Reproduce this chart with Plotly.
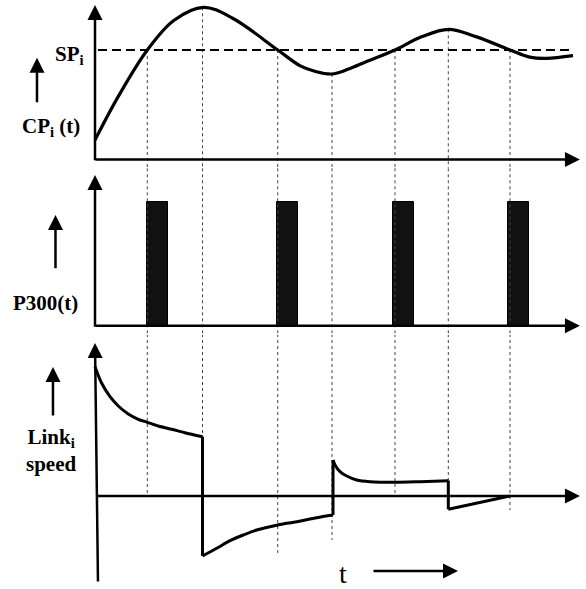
import plotly.graph_objects as go

# ---------------- data (time in arbitrary units t) ----------------
# Top panel: CP_i(t), set point SP_i = 1
cp_t = [0.0, 0.48, 1.083, 1.63, 2.242, 2.85, 3.783, 4.25, 4.55, 4.901, 5.25, 5.60,
        6.211, 6.76, 7.315, 7.90, 8.592, 9.00, 9.35, 9.896]
cp_v = [0.178, 0.574, 1.0, 1.27, 1.390, 1.29, 1.0, 0.855, 0.806, 0.781, 0.826, 0.89,
        1.0, 1.12, 1.189, 1.12, 1.0, 0.935, 0.924, 0.948]
sp_level = 1.0
sp_start = 0.062
sp_end = 9.896

# event instants (vertical dotted guides)
event_t = [1.083, 2.226, 3.783, 4.907, 6.211, 7.315, 8.592]
event_top = [1.0, 1.390, 1.0, 0.781, 1.0, 1.189, 1.0]          # on CP panel
event_bottom = [0.02, -0.60, -0.59, -0.44, 0.03, -0.13, -0.14]   # on speed panel

# Middle panel: P300 pulses
p300_onset = [1.083, 3.768, 6.18, 8.557]
p300_height = [1.0, 1.0, 1.0, 1.0]
p300_width = 0.43

# Bottom panel: link speed (four segments)
speed_t1 = [0.0, 0.139, 0.311, 0.482, 0.689, 0.896, 1.083, 1.311, 1.588, 1.863, 2.226]
speed_v1 = [1.293, 1.127, 0.993, 0.90, 0.82, 0.767, 0.737, 0.70, 0.667, 0.633, 0.593]
speed_t2 = [2.226, 2.520, 2.795, 3.070, 3.348, 3.783, 4.176, 4.590, 4.928]
speed_v2 = [-0.60, -0.523, -0.447, -0.39, -0.34, -0.29, -0.257, -0.217, -0.19]
speed_t3 = [4.928, 4.969, 5.072, 5.211, 5.418, 5.694, 6.211, 6.729, 7.315]
speed_v3 = [0.36, 0.31, 0.243, 0.20, 0.16, 0.143, 0.137, 0.143, 0.153]
speed_t4 = [7.315, 8.592]
speed_v4 = [-0.133, 0.0]

# axis extents
t_end = 10.04
top_ymax = 1.411
mid_ymax = 1.218
bot_ymax = 1.53
bot_ymin = -0.87
bot_axis_foot_t = 0.062

FONT = "Liberation Serif"

fig = go.Figure()

# dotted event guides through all three panels
for te, top, bot in zip(event_t, event_top, event_bottom):
    dot = dict(color="#444", width=1, dash="dot")
    fig.add_trace(go.Scatter(x=[te, te], y=[top, -0.5], mode="lines", line=dot,
                             xaxis="x", yaxis="y", hoverinfo="skip"))
    fig.add_trace(go.Scatter(x=[te, te], y=[2, -0.5], mode="lines", line=dot,
                             xaxis="x", yaxis="y2", hoverinfo="skip"))
    fig.add_trace(go.Scatter(x=[te, te], y=[3, bot], mode="lines", line=dot,
                             xaxis="x", yaxis="y3", hoverinfo="skip"))

# set point dashed line
fig.add_trace(go.Scatter(x=[sp_start, sp_end], y=[sp_level, sp_level], mode="lines",
                         line=dict(color="black", width=1.8, dash="9px,5px"),
                         xaxis="x", yaxis="y", hoverinfo="skip"))

# CP curve
fig.add_trace(go.Scatter(x=cp_t, y=cp_v, mode="lines",
                         line=dict(color="black", width=3.2, shape="spline", smoothing=1.0),
                         xaxis="x", yaxis="y", hoverinfo="skip"))

# P300 bars
fig.add_trace(go.Bar(x=p300_onset, y=p300_height, width=p300_width, offset=0,
                     marker=dict(color="#111111", line=dict(color="black", width=1)),
                     xaxis="x", yaxis="y2", hoverinfo="skip"))

# link speed curve
segs = [(speed_t1, speed_v1), (speed_t2, speed_v2), (speed_t3, speed_v3), (speed_t4, speed_v4)]
for i, (st, sv) in enumerate(segs):
    fig.add_trace(go.Scatter(x=st, y=sv, mode="lines",
                             line=dict(color="black", width=3, shape="spline", smoothing=0.8),
                             xaxis="x", yaxis="y3", hoverinfo="skip"))
    if i + 1 < len(segs):
        nt, nv = segs[i + 1]
        fig.add_trace(go.Scatter(x=[st[-1], nt[0]], y=[sv[-1], nv[0]], mode="lines",
                                 line=dict(color="black", width=3),
                                 xaxis="x", yaxis="y3", hoverinfo="skip"))


def arrow(x, y, ax, ay, yref, w=2.5):
    return dict(x=x, y=y, ax=ax, ay=ay, xref="x", yref=yref, axref="x", ayref=yref,
                showarrow=True, arrowhead=2, arrowsize=1.2, arrowwidth=w,
                arrowcolor="black", text="", standoff=0)


def label(x, y, text, yref, size=21, bold=True):
    return dict(x=x, y=y, xref="x", yref=yref, showarrow=False,
                text=f"<b>{text}</b>" if bold else text,
                font=dict(family=FONT, size=size, color="black"))


annotations = [
    # axes
    arrow(0, top_ymax, 0, -0.02, "y"),
    arrow(t_end, 0, -0.02, 0, "y"),
    arrow(0, mid_ymax, 0, -0.02, "y2"),
    arrow(t_end, 0, -0.02, 0, "y2"),
    arrow(0, bot_ymax, bot_axis_foot_t, bot_ymin, "y3"),
    arrow(t_end, 0, 0.0, 0, "y3"),
    # label arrows
    arrow(-1.201, 0.93, -1.201, 0.51, "y"),
    arrow(-0.818, 0.895, -0.818, 0.452, "y2"),
    arrow(-0.870, 1.29, -0.870, 0.79, "y3"),
    arrow(7.516, -0.75, 5.735, -0.75, "y3"),
    # labels
    label(-0.52, 0.95, "SP<sub>i</sub>", "y"),
    label(-0.91, 0.30, "CP<sub>i</sub> (t)", "y"),
    label(-1.03, 0.185, "P300(t)", "y2"),
    label(-0.91, 0.46, "Link<sub>i</sub><br>speed", "y3"),
    label(5.13, -0.77, "t", "y3", size=28, bold=False),
]

hidden = dict(visible=False, fixedrange=True)
fig.update_layout(
    width=586, height=589,
    margin=dict(l=0, r=0, t=0, b=0),
    paper_bgcolor="white", plot_bgcolor="white",
    showlegend=False,
    xaxis=dict(range=[-95 / 48.3, 491 / 48.3], domain=[0, 1], **hidden),
    yaxis=dict(range=[-0.0776, 1.4566], domain=[1 - 168 / 589, 1], anchor="x", **hidden),
    yaxis2=dict(range=[-0.0752, 1.2749], domain=[1 - 335 / 589, 1 - 168 / 589], anchor="x", **hidden),
    yaxis3=dict(range=[-0.93, 1.61], domain=[0, 1 - 335 / 589], anchor="x", **hidden),
    annotations=annotations,
    bargap=0,
)

fig.write_html("out.html", post_script="document.body.style.margin='0px';",
               config={"displayModeBar": False})
